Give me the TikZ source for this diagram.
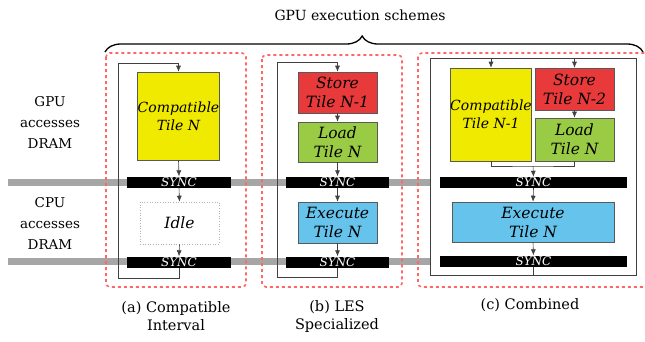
\documentclass[tikz,border=0pt]{standalone}
\usepackage{fontspec}
\newfontfamily\tilefont{DejaVu Serif}
\usetikzlibrary{decorations.pathreplacing,arrows.meta}

\definecolor{tileyellow}{RGB}{240,234,0}
\definecolor{tilered}{RGB}{232,58,58}
\definecolor{tilegreen}{RGB}{153,204,68}
\definecolor{tileblue}{RGB}{102,196,236}

\begin{document}
\begin{tikzpicture}[x=1pt,y=-1pt,
    tile/.style={draw=gray!70!black, line width=0.6pt, inner sep=0pt, align=center,
        font=\tilefont\itshape\fontsize{15.5}{19}\selectfont},
    compat/.style={tile, fill=tileyellow, font=\tilefont\itshape\fontsize{14}{18}\selectfont},
    syncbar/.style={fill=black, minimum height=11pt, inner sep=0pt, text=white,
        font=\tilefont\itshape\fontsize{12}{11}\selectfont},
    panel/.style={draw=red!60, dash pattern=on 3pt off 3pt, line width=1.6pt, rounded corners=4pt},
    flow/.style={draw=black!75, line width=0.6pt},
    link/.style={flow, -{Latex[length=6pt,width=5pt]}},
    band/.style={draw=gray!70, line width=7pt},
    lbl/.style={align=center, font=\tilefont\fontsize{13.5}{21}\selectfont},
    caption/.style={align=center, font=\tilefont\fontsize{14.5}{18}\selectfont}]
        \useasboundingbox (0,0) rectangle (645,341);

        \draw[band] (8,182.5) -- (430,182.5);
        \draw[band] (8,261.5) -- (430,261.5);

        \node (title) at (360,15) {\tilefont\fontsize{14}{14}\selectfont GPU execution schemes};
        \draw[decorate, decoration={brace, amplitude=16pt, aspect=0.478}, line width=1.3pt] (105,52) -- (643,52);

        \node[lbl] (gpulbl) at (50,122) {GPU\\accesses\\DRAM};
        \node[lbl] (cpulbl) at (50,223) {CPU\\accesses\\DRAM};

        % (a) compatible interval
        \draw[panel] (106,53) rectangle (246,287);
        \node[compat, minimum width=79pt, minimum height=88pt] (cA) at (178.5,116) {Compatible\\Tile N};
        \node[syncbar, minimum width=104pt] (syncA1) at (179,182) {SYNC};
        \node[tile, draw=gray!60, dotted, fill=white, minimum width=79pt, minimum height=42pt] (idle) at (179.5,223) {Idle};
        \node[syncbar, minimum width=104pt] (syncA2) at (179,262) {SYNC};
        \coordinate (botA) at (118,278);
        \coordinate (topA) at (118,63);
        \draw[link] (cA.south) -- (syncA1.north);
        \draw[link] (syncA1.south) -- (idle.north);
        \draw[link] (idle.south) -- (syncA2.north);
        \draw[link] (syncA2.south) |- (botA) -- (topA) -| (cA.north);
        \node[caption] (capA) at (176,316) {(a) Compatible\\Interval};

        % (b) LES specialized
        \draw[panel] (262,55) rectangle (402,287);
        \node[tile, fill=tilered, minimum width=79pt, minimum height=41pt] (storeB) at (337.5,92.5) {Store\\Tile N-1};
        \node[tile, fill=tilegreen, minimum width=79pt, minimum height=40pt] (loadB) at (337.5,142) {Load\\Tile N};
        \node[syncbar, minimum width=103pt] (syncB1) at (337.5,182) {SYNC};
        \node[tile, fill=tileblue, minimum width=79pt, minimum height=41pt] (exeB) at (337.5,222.5) {Execute\\Tile N};
        \node[syncbar, minimum width=103pt] (syncB2) at (337.5,262) {SYNC};
        \coordinate (botB) at (277,277);
        \coordinate (topB) at (277,62);
        \draw[link] (storeB.south) -- (loadB.north);
        \draw[link] (loadB.south) -- (syncB1.north);
        \draw[link] (syncB1.south) -- (exeB.north);
        \draw[link] (exeB.south) -- (syncB2.north);
        \draw[link] (syncB2.south) |- (botB) -- (topB) -| (storeB.north);
        \node[caption] (capB) at (337,316) {(b) LES\\Specialized};

        % (c) combined
        \draw[panel] (418,53) rectangle (650,287);
        \node[flow, draw, fill=white, minimum width=206pt, minimum height=217pt] (outerC) at (533,166.5) {};
        \node[compat, minimum width=78pt, minimum height=93pt] (cC) at (491,114.5) {Compatible\\Tile N-1};
        \node[tile, fill=tilered, minimum width=79pt, minimum height=42pt] (storeC) at (574.5,89) {Store\\Tile N-2};
        \node[tile, fill=tilegreen, minimum width=79pt, minimum height=43pt] (loadC) at (574.5,139.5) {Load\\Tile N};
        \node[syncbar, minimum width=187pt] (syncC1) at (533.5,182.5) {SYNC};
        \node[tile, fill=tileblue, minimum width=162pt, minimum height=40pt] (exeC) at (533,222) {Execute\\Tile N};
        \node[syncbar, minimum width=187pt] (syncC2) at (533.5,261) {SYNC};
        \coordinate (mergeC) at (533,166);
        \draw[link] (cC.north |- outerC.north) -- (cC.north);
        \draw[link] (storeC.north |- outerC.north) -- (storeC.north);
        \draw[link] (storeC.south) -- (loadC.north);
        \draw[flow] (cC.south) |- (mergeC) -| (loadC.south);
        \draw[link] (mergeC) -- (syncC1.north);
        \draw[link] (syncC1.south) -- (exeC.north);
        \draw[link] (exeC.south) -- (syncC2.north);
        \draw[flow] (syncC2.south) -- (syncC2.south |- outerC.south);
        \node[caption] (capC) at (530,305) {(c) Combined};
\end{tikzpicture}
\end{document}
